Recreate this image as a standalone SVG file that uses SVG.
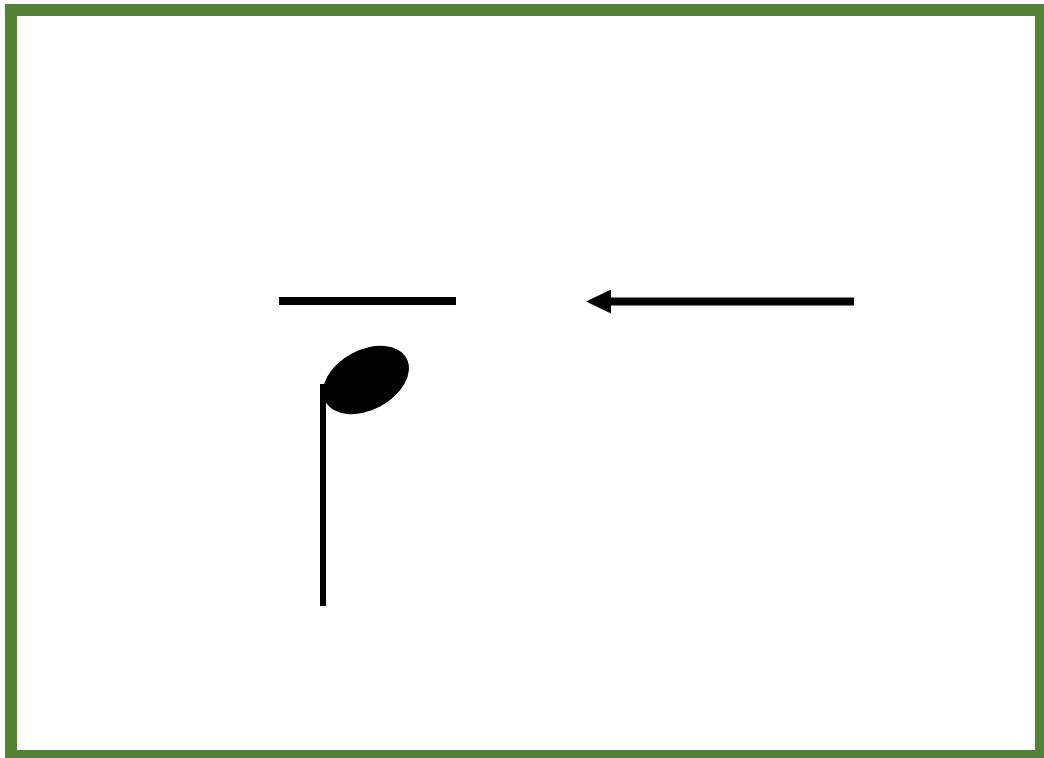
<svg xmlns="http://www.w3.org/2000/svg" width="1044" height="758" viewBox="0 0 1044 758">
  <style>
    .frame { fill: #ffffff; stroke: #538135; stroke-width: 12; }
    .ink { fill: #000000; }
    .bar { stroke: #000000; stroke-width: 8; fill: none; }
  </style>
  <defs>
    <marker id="arrowhead" markerUnits="userSpaceOnUse" markerWidth="26" markerHeight="24" refX="1" refY="12" orient="auto">
      <polygon points="0,0 25,12 0,24" fill="#000000"/>
    </marker>
  </defs>
  <rect width="1044" height="758" fill="#ffffff"/>
  <g id="frame">
    <rect class="frame" x="11" y="10" width="1030" height="746"/>
  </g>
  <g id="ledger-line">
    <line class="bar" x1="279" y1="301" x2="456" y2="301"/>
  </g>
  <g id="note">
    <ellipse class="ink" cx="366" cy="380" rx="46" ry="30" transform="rotate(-28 366 380)"/>
    <rect class="ink" x="320" y="384" width="6" height="222"/>
  </g>
  <g id="connectors">
    <line class="bar" x1="854" y1="301.5" x2="610" y2="301.5" marker-end="url(#arrowhead)"/>
  </g>
</svg>
